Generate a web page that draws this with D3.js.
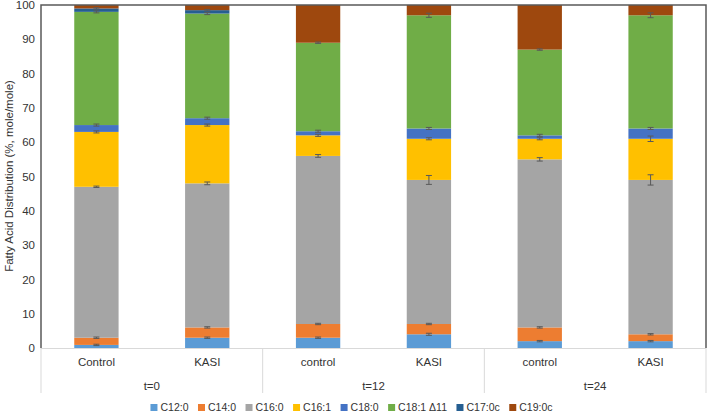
<!DOCTYPE html>
<html><head><meta charset="utf-8">
<script src="https://cdn.jsdelivr.net/npm/d3@7"></script>
<style>body{margin:0;background:#fff;} svg{display:block;font-family:"Liberation Sans",Arial,sans-serif;}</style>
</head><body><svg id="c" width="708" height="415"></svg>
<script>
const categories = ["Control","KASI","control","KASI","control","KASI"];
const groups = ["t=0","t=12","t=24"];
const seriesNames = ["C12:0","C14:0","C16:0","C16:1","C18:0","C18:1 Δ11","C17:0c","C19:0c"];
const colors = ["#5B9BD5","#ED7D31","#A5A5A5","#FFC000","#4472C4","#70AD47","#255E91","#9E480E"];
const c12 = [0.9, 3, 3, 4, 2, 2];
const c14 = [2.1, 3, 4, 3, 4, 2];
const c16 = [44, 42, 49, 42, 49, 45];
const c161 = [16, 17, 6, 12, 6, 12];
const c18 = [2, 2, 1.2, 3, 1, 3];
const c181 = [33, 30.5, 25.8, 33, 25, 33];
const c17 = [1, 1, 0, 0, 0, 0];
const c19 = [1, 1.5, 11, 3, 13, 3];
const e12 = [0.2, 0.2, 0.2, 0.3, 0.2, 0.2];
const e14 = [0.2, 0.2, 0.2, 0.2, 0.2, 0.2];
const e16 = [0.2, 0.4, 0.4, 1.3, 0.5, 1.5];
const e161 = [0.3, 0.3, 0.3, 0.3, 0.3, 0.8];
const e18 = [0.3, 0.3, 0.3, 0.3, 0.3, 0.3];
const e181 = [0.3, 0.3, 0.2, 0.6, 0.2, 0.7];
const e17 = [0.2, 0.2, 0, 0, 0, 0];
const yTicks = [0,10,20,30,40,50,60,70,80,90,100];

const values = [c12,c14,c16,c161,c18,c181,c17,c19];
const errs = [e12,e14,e16,e161,e18,e181,e17,null];

const svg = d3.select("#c");
const L = 41, R = 706, T = 5, B = 348;
const x = d3.scaleBand().domain(d3.range(categories.length)).range([L,R]).paddingInner(0.6).paddingOuter(0.3);
const xc = d3.scaleBand().domain(d3.range(categories.length)).range([L,R]);
const y = d3.scaleLinear().domain([0,100]).range([B,T]);

const rows = categories.map((c,i)=>{const o={i}; seriesNames.forEach((s,k)=>o[s]=values[k][i]); return o;});
const stacked = d3.stack().keys(seriesNames)(rows);

// bars
stacked.forEach((layer,k)=>{
  svg.append("g").attr("fill",colors[k]).selectAll("rect").data(layer).join("rect")
    .attr("x",(d,i)=>x(i)).attr("width",x.bandwidth())
    .attr("y",d=>y(d[1])).attr("height",d=>Math.max(0,y(d[0])-y(d[1])));
});
// error bars
stacked.forEach((layer,k)=>{
  if(!errs[k]) return;
  layer.forEach((d,i)=>{
    const e = errs[k][i]; if(!e || values[k][i]===0) return;
    const cx = x(i)+x.bandwidth()/2;
    const g = svg.append("g").attr("stroke","#595959").attr("stroke-width",1);
    g.append("line").attr("x1",cx).attr("x2",cx).attr("y1",y(d[1]+e)).attr("y2",y(d[1]-e));
    g.append("line").attr("x1",cx-3).attr("x2",cx+3).attr("y1",y(d[1]+e)).attr("y2",y(d[1]+e));
    g.append("line").attr("x1",cx-3).attr("x2",cx+3).attr("y1",y(d[1]-e)).attr("y2",y(d[1]-e));
  });
});

// y axis
const ya = svg.append("g").attr("transform",`translate(${L},0)`).call(d3.axisLeft(y).tickValues(yTicks).tickSize(0).tickPadding(6));
ya.select(".domain").remove();
ya.selectAll("text").attr("font-size",11.5).attr("fill","#333").attr("font-family","Liberation Sans, Arial, sans-serif");

// plot border
svg.append("path").attr("d",`M${L},${B}V${T}H${R}V${B}`).attr("fill","none").attr("stroke","#595959").attr("stroke-width",1.5);

// category axis
svg.append("line").attr("x1",L).attr("x2",R).attr("y1",B+0.5).attr("y2",B+0.5).attr("stroke","#d9d9d9");
[0,2,4,6].forEach(b=>{
  const xx = b<6 ? xc(b) : R;
  svg.append("line").attr("x1",xx).attr("x2",xx).attr("y1",B).attr("y2",393).attr("stroke","#d9d9d9");
});
svg.append("g").selectAll("text").data(categories).join("text")
  .attr("x",(d,i)=>xc(i)+xc.bandwidth()/2).attr("y",366).attr("text-anchor","middle")
  .attr("font-size",11.5).attr("fill","#333").text(d=>d);
svg.append("g").selectAll("text").data(groups).join("text")
  .attr("x",(d,i)=>xc(i*2)+xc.bandwidth()).attr("y",390).attr("text-anchor","middle")
  .attr("font-size",11.5).attr("fill","#333").text(d=>d);

// y title
svg.append("text").attr("transform","translate(13,176) rotate(-90)").attr("text-anchor","middle")
  .attr("font-size",11.5).attr("fill","#333").text("Fatty Acid Distribution (%, mole/mole)");

// legend
const lg = svg.append("g");
let lx = 0;
const gap = 9.5;
seriesNames.forEach((s,k)=>{
  const g = lg.append("g");
  g.append("rect").attr("x",0).attr("y",-7).attr("width",7).attr("height",7).attr("fill",colors[k]);
  const t = g.append("text").attr("x",10).attr("y",0).attr("font-size",10.5).attr("fill","#333").text(s);
  const w = t.node().getComputedTextLength();
  g.attr("transform",`translate(${lx},0)`);
  lx += 10 + w + gap;
});
const totalW = lx - gap;
lg.attr("transform",`translate(${351.5 - totalW/2},411)`);
</script></body></html>
